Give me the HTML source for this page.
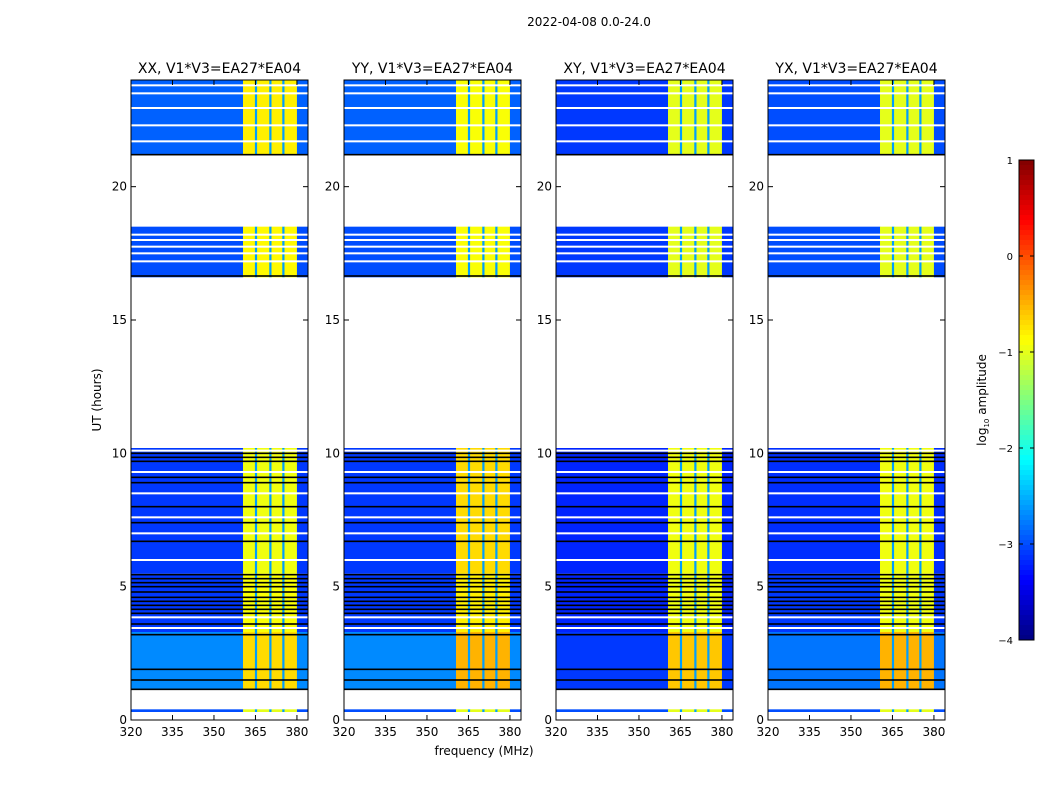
<!DOCTYPE html>
<html><head><meta charset="utf-8">
<style>
body{margin:0;background:#fff;}
svg text{font-family:"DejaVu Sans","Liberation Sans",sans-serif;fill:#000;}
</style></head>
<body>
<svg id="chart" width="1050" height="800" xmlns="http://www.w3.org/2000/svg">
<rect x="0" y="0" width="1050" height="800" fill="#fff"/>
<text x="589" y="26" font-size="12" text-anchor="middle">2022-04-08 0.0-24.0</text>
<text x="101" y="400" font-size="12" text-anchor="middle" transform="rotate(-90 101 400)">UT (hours)</text>
<text x="484" y="755" font-size="12" text-anchor="middle">frequency (MHz)</text>
<g id="panels"></g>
<g id="cbar"></g>
</svg>
<script>
// ---- data ----
const panelTitles = ["XX, V1*V3=EA27*EA04","YY, V1*V3=EA27*EA04","XY, V1*V3=EA27*EA04","YX, V1*V3=EA27*EA04"];
const panelLefts = [131,344,556,768];
// frequency segments (MHz); kind 0=noise,1=band,2=notch
const segStart = [320,360.5,364.8,365.6,370.0,370.8,374.7,375.5,380.0];
const segEnd   = [360.5,364.8,365.6,370.0,370.8,374.7,375.5,380.0,384];
const segKind  = [0,1,2,1,2,1,2,1,0];
// time blocks (hours) with log10 amplitude for noise and band, per panel
const blockStart = [0.3,1.15,3.3,5.5,16.6,21.2];
const blockEnd   = [0.4,3.3,5.5,10.2,18.5,24.0];
const noiseXX = [-3.0,-2.7,-3.1,-3.1,-3.0,-2.9];
const bandXX  = [-1.0,-0.7,-0.9,-0.95,-0.85,-0.8];
const noiseYY = [-3.0,-2.7,-3.1,-3.1,-3.0,-2.9];
const bandYY  = [-1.0,-0.5,-0.8,-0.7,-0.9,-0.9];
const noiseXY = [-3.0,-3.1,-3.2,-3.2,-3.1,-3.1];
const bandXY  = [-1.0,-0.6,-0.95,-0.95,-1.0,-1.0];
const noiseYX = [-3.0,-2.8,-3.1,-3.15,-3.0,-3.0];
const bandYX  = [-1.0,-0.5,-0.95,-0.95,-1.0,-1.0];
const notchVal = -2.6;
const blackLines = [1.15,1.5,1.9,3.2,3.6,4.0,4.15,4.3,4.45,4.6,4.8,5.0,5.15,5.3,5.45,6.7,7.4,8.0,8.9,9.1,9.7,9.85,10.0,16.65,21.2];
const whiteLines = [3.45,3.85,6.0,7.0,7.6,8.5,9.3,10.1,17.2,17.5,17.75,18.0,18.2,21.7,22.3,22.95,23.5,23.8];
const yTicks = [0,5,10,15,20];
const xTicks = [320,335,350,365,380];
const cbTicks = [1,0,-1,-2,-3,-4];
const noiseSets=[noiseXX,noiseYY,noiseXY,noiseYX], bandSets=[bandXX,bandYY,bandXY,bandYX];

// ---- helpers ----
const NS="http://www.w3.org/2000/svg";
const W=177, TOP=80, BOT=720;
function xs(left,f){return left+(f-320)*W/64;}
function ys(h){return BOT-h*(BOT-TOP)/24;}
function jet(v){
  let t=(v+4)/5; t=Math.max(0,Math.min(1,t));
  const c=x=>Math.round(255*Math.max(0,Math.min(1,x)));
  return `rgb(${c(1.5-Math.abs(4*t-3))},${c(1.5-Math.abs(4*t-2))},${c(1.5-Math.abs(4*t-1))})`;
}
function mk(tag,attrs,parent){const e=document.createElementNS(NS,tag);for(const k in attrs)e.setAttribute(k,attrs[k]);parent.appendChild(e);return e;}

const pg=document.getElementById('panels');
panelLefts.forEach((L,p)=>{
  const g=mk('g',{},pg);
  
  
  blockStart.forEach((b0,i)=>{
    segStart.forEach((s0,j)=>{
      const v=segKind[j]===0?noiseSets[p][i]:segKind[j]===1?bandSets[p][i]:notchVal;
      const r=mk('rect',{x:xs(L,s0),y:ys(blockEnd[i]),width:xs(L,segEnd[j])-xs(L,s0)+0.3,height:ys(blockStart[i])-ys(blockEnd[i]),fill:jet(v)},g);
      
      
    });
  });
  blackLines.forEach(h=>{const l=mk('rect',{x:L,y:ys(h)-0.8,width:W,height:1.6,fill:'#000'},g);
    
    });
  whiteLines.forEach(h=>{const l=mk('rect',{x:L,y:ys(h)-1,width:W,height:2,fill:'#fff'},g);
    
    });
  mk('rect',{x:L,y:TOP,width:W,height:BOT-TOP,fill:'none',stroke:'#000','stroke-width':1},g);
  const t=mk('text',{x:L+W/2,y:73,'font-size':14,'text-anchor':'middle'},g);t.textContent=panelTitles[p];
  
  
  yTicks.forEach(h=>{
    mk('line',{x1:L,x2:L+5,y1:ys(h),y2:ys(h),stroke:'#000'},g);
    mk('line',{x1:L+W-5,x2:L+W,y1:ys(h),y2:ys(h),stroke:'#000'},g);
    const tt=mk('text',{x:L-4,y:ys(h)+4,'font-size':12,'text-anchor':'end'},g);tt.textContent=h;
    
    
  });
  xTicks.forEach(f=>{
    mk('line',{x1:xs(L,f),x2:xs(L,f),y1:BOT,y2:BOT-5,stroke:'#000'},g);
    mk('line',{x1:xs(L,f),x2:xs(L,f),y1:TOP,y2:TOP+5,stroke:'#000'},g);
    const tt=mk('text',{x:xs(L,f),y:BOT+16,'font-size':12,'text-anchor':'middle'},g);tt.textContent=f;
    
    
  });
});

// colorbar
const cb=document.getElementById('cbar');


const CX=1019,CW=15,CT=160,CB=640;
for(let i=0;i<96;i++){const v=1-5*i/96;mk('rect',{x:CX,y:CT+i*5,width:CW,height:5.5,fill:jet(v-5/192)},cb);}
mk('rect',{x:CX,y:CT,width:CW,height:CB-CT,fill:'none',stroke:'#000'},cb);
cbTicks.forEach(v=>{const y=CT+(1-v)*(CB-CT)/5;
  mk('line',{x1:CX,x2:CX+4,y1:y,y2:y,stroke:'#000'},cb);
  mk('line',{x1:CX+CW-4,x2:CX+CW,y1:y,y2:y,stroke:'#000'},cb);
  const t=mk('text',{x:1013,y:y+4,'font-size':10,'text-anchor':'end'},cb);t.textContent=v<0?'\u2212'+(-v):v;
  
  
});
const ct=mk('text',{x:986,y:400,'font-size':12,'text-anchor':'middle',transform:'rotate(-90 986 400)'},cb);
ct.innerHTML='log<tspan font-size="7" dy="3">10</tspan><tspan dy="-3"> amplitude</tspan>';


</script>
</body></html>
